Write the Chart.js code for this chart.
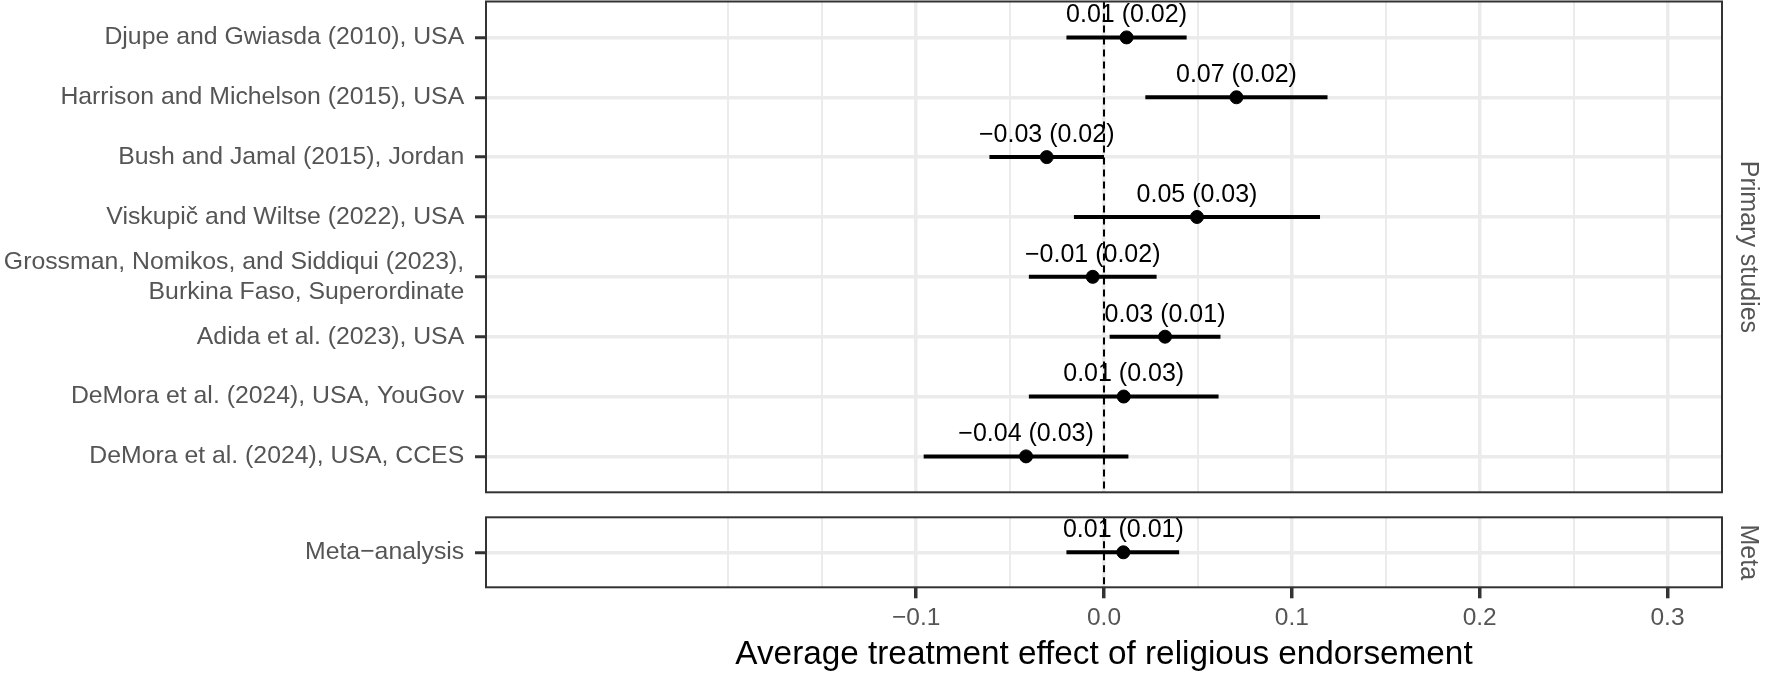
<!DOCTYPE html>
<html>
<head>
<meta charset="utf-8">
<script src="https://cdn.jsdelivr.net/npm/chart.js@4.4.1/dist/chart.umd.min.js"></script>
<style>
  body { margin: 0; background: #fff; }
  #wrap { position: relative; width: 1766px; height: 684px; }
  #wrap canvas { position: absolute; left: 0; top: 0; }
</style>
</head>
<body>
<div id="wrap">
  <canvas id="primary" width="1766" height="684"></canvas>
  <canvas id="meta" width="1766" height="684"></canvas>
</div>
<script>
// primary studies, top to bottom
var studyLabels = [
    'Djupe and Gwiasda (2010), USA',
    'Harrison and Michelson (2015), USA',
    'Bush and Jamal (2015), Jordan',
    'Viskupič and Wiltse (2022), USA',
    ['Grossman, Nomikos, and Siddiqui (2023),', 'Burkina Faso, Superordinate'],
    'Adida et al. (2023), USA',
    'DeMora et al. (2024), USA, YouGov',
    'DeMora et al. (2024), USA, CCES'
];
var studyEst  = [0.012, 0.0705, -0.0305, 0.0495, -0.006, 0.0325, 0.0105, -0.0415];
var studyLow  = [-0.020, 0.022, -0.061, -0.016, -0.040, 0.003, -0.040, -0.096];
var studyHigh = [0.044, 0.119, 0.000, 0.115, 0.028, 0.062, 0.061, 0.013];
var studyText = ['0.01 (0.02)', '0.07 (0.02)', '−0.03 (0.02)', '0.05 (0.03)',
                 '−0.01 (0.02)', '0.03 (0.01)', '0.01 (0.03)', '−0.04 (0.03)'];

// meta-analysis
var metaLabels = ['Meta−analysis'];
var metaEst  = [0.0103];
var metaLow  = [-0.020];
var metaHigh = [0.040];
var metaText = ['0.01 (0.01)'];

var xTickValues = [-0.1, 0, 0.1, 0.2, 0.3];
var xTickLabels = ['−0.1', '0.0', '0.1', '0.2', '0.3'];
var xGridValues = [-0.2, -0.15, -0.1, -0.05, 0, 0.05, 0.1, 0.15, 0.2, 0.25, 0.3];
var xMin = -0.329, xMax = 0.329;
var zeroLine = 0;

Chart.defaults.font.family = '"Liberation Sans", Arial, Helvetica, sans-serif';

function majorIndex(v){
    for (var k = 0; k < xTickValues.length; k++) {
        if (Math.abs(xTickValues[k] - v) < 1e-9) return k;
    }
    return -1;
}

var panelBorder = {
    id: 'panelBorder',
    afterDraw: function(chart){
        var a = chart.chartArea, ctx = chart.ctx;
        ctx.save();
        ctx.strokeStyle = '#333333';
        ctx.lineWidth = 2;
        ctx.strokeRect(a.left, a.top, a.right - a.left, a.bottom - a.top);
        ctx.restore();
    }
};

var estLabels = {
    id: 'estLabels',
    afterDatasetsDraw: function(chart, args, opts){
        var ctx = chart.ctx;
        var xs = chart.scales.x, ys = chart.scales.y;
        ctx.save();
        ctx.font = '25px "Liberation Sans", Arial, sans-serif';
        ctx.fillStyle = '#000';
        ctx.textAlign = 'center';
        ctx.textBaseline = 'middle';
        opts.est.forEach(function(v, i){
            ctx.fillText(opts.text[i], xs.getPixelForValue(v), ys.getPixelForValue(i) - 22);
        });
        ctx.restore();
    }
};

function drawPanel(id, labels, est, low, high, text, strip, isBottom, padTop, padBottom){
    var yMin = -0.6, yMax = labels.length - 1 + 0.6;

    var datasets = [];
    datasets.push({
        data: est.map(function(v, i){ return {x: v, y: i}; }),
        pointRadius: 6.5,
        pointBorderWidth: 1,
        pointBackgroundColor: '#000',
        pointBorderColor: '#000',
        order: 0
    });
    low.forEach(function(lo, i){
        datasets.push({
            data: [{x: lo, y: i}, {x: high[i], y: i}],
            showLine: true,
            pointRadius: 0,
            borderColor: '#000',
            borderWidth: 4,
            order: 1
        });
    });
    datasets.push({
        data: [{x: zeroLine, y: yMin}, {x: zeroLine, y: yMax}],
        showLine: true,
        pointRadius: 0,
        borderColor: '#000',
        borderWidth: 2,
        borderDash: [7, 5],
        order: 2
    });

    new Chart(document.getElementById(id), {
        type: 'scatter',
        data: {datasets: datasets},
        plugins: [panelBorder, estLabels],
        options: {
            responsive: false,
            animation: false,
            devicePixelRatio: 1,
            events: [],
            layout: {
                autoPadding: false,
                padding: {top: padTop, bottom: padBottom, left: 0, right: 0}
            },
            plugins: {
                legend: {display: false},
                tooltip: {enabled: false},
                estLabels: {est: est, text: text}
            },
            scales: {
                x: {
                    type: 'linear',
                    min: xMin,
                    max: xMax,
                    afterBuildTicks: function(s){
                        s.ticks = xGridValues.map(function(v){ return {value: v}; });
                    },
                    afterFit: function(s){
                        s.paddingLeft = 0;
                        s.paddingRight = 0;
                        s.height = isBottom ? 96.7 : 0;
                    },
                    grid: {
                        color: '#EBEBEB',
                        lineWidth: function(c){ return c.tick && majorIndex(c.tick.value) >= 0 ? 3.5 : 2; },
                        drawTicks: isBottom,
                        tickLength: 11,
                        tickWidth: 3.5,
                        tickColor: function(c){ return c.tick && majorIndex(c.tick.value) >= 0 ? '#333333' : 'rgba(0,0,0,0)'; }
                    },
                    border: {display: false},
                    ticks: {
                        display: isBottom,
                        autoSkip: false,
                        maxRotation: 0,
                        padding: 5,
                        color: '#555555',
                        font: {size: 24.5},
                        callback: function(v){
                            var k = majorIndex(v);
                            return k >= 0 ? xTickLabels[k] : '';
                        }
                    },
                    title: {
                        display: isBottom,
                        text: 'Average treatment effect of religious endorsement',
                        color: '#000',
                        font: {size: 33.3},
                        padding: {top: 0, bottom: 9}
                    }
                },
                y: {
                    type: 'linear',
                    reverse: true,
                    min: yMin,
                    max: yMax,
                    afterBuildTicks: function(s){
                        s.ticks = labels.map(function(l, i){ return {value: i}; });
                    },
                    afterFit: function(s){
                        s.width = 486;
                        s.paddingTop = 0;
                        s.paddingBottom = 0;
                    },
                    grid: {
                        color: '#EBEBEB',
                        lineWidth: 3.5,
                        tickLength: 11,
                        tickWidth: 3,
                        tickColor: '#333333'
                    },
                    border: {display: false},
                    ticks: {
                        autoSkip: false,
                        padding: 10.8,
                        color: '#555555',
                        font: {size: 24.8},
                        callback: function(v){ return labels[v]; }
                    }
                },
                y2: {
                    type: 'linear',
                    position: 'right',
                    afterFit: function(s){
                        s.width = 44;
                        s.paddingTop = 0;
                        s.paddingBottom = 0;
                    },
                    grid: {display: false},
                    border: {display: false},
                    ticks: {display: false},
                    title: {
                        display: true,
                        text: strip,
                        color: '#555555',
                        font: {size: 25},
                        padding: {top: 3, bottom: 0}
                    }
                }
            }
        }
    });
}

drawPanel('primary', studyLabels, studyEst, studyLow, studyHigh, studyText, 'Primary studies', false, 1.5, 191.7);
drawPanel('meta', metaLabels, metaEst, metaLow, metaHigh, metaText, 'Meta', true, 517.3, 0);
</script>
</body>
</html>
